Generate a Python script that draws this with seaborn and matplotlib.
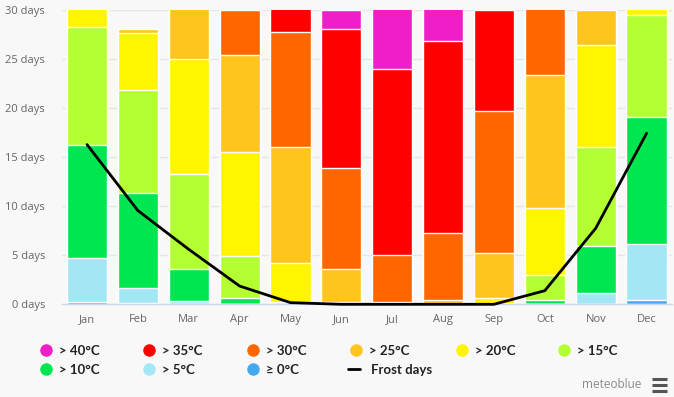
import numpy as np
import pandas as pd
import matplotlib
matplotlib.use("Agg")
import matplotlib.pyplot as plt
from matplotlib.lines import Line2D
import seaborn as sns

# ---------------- data ----------------
months = ["Jan", "Feb", "Mar", "Apr", "May", "Jun", "Jul", "Aug", "Sep", "Oct", "Nov", "Dec"]
ge0 = [0.27, 0.10, 0.00, 0.00, 0.00, 0.00, 0.00, 0.00, 0.00, 0.00, 0.00, 0.44]
gt5 = [4.45, 1.56, 0.34, 0.00, 0.00, 0.00, 0.00, 0.00, 0.00, 0.00, 1.16, 5.68]
gt10 = [11.56, 9.72, 3.30, 0.68, 0.00, 0.00, 0.00, 0.00, 0.00, 0.44, 4.82, 13.01]
gt15 = [11.96, 10.47, 9.65, 4.28, 0.27, 0.00, 0.00, 0.00, 0.00, 2.52, 10.09, 10.36]
gt20 = [2.76, 5.84, 11.68, 10.53, 3.91, 0.27, 0.00, 0.00, 0.61, 6.83, 10.37, 1.51]
gt25 = [0.00, 0.41, 6.03, 9.89, 11.89, 3.37, 0.27, 0.44, 4.59, 13.59, 3.56, 0.00]
gt30 = [0.00, 0.00, 0.00, 4.62, 11.66, 10.22, 4.76, 6.80, 14.51, 7.62, 0.00, 0.00]
gt35 = [0.00, 0.00, 0.00, 0.00, 3.27, 14.20, 18.93, 19.57, 10.29, 0.00, 0.00, 0.00]
gt40 = [0.00, 0.00, 0.00, 0.00, 0.00, 1.94, 7.04, 4.19, 0.00, 0.00, 0.00, 0.00]
frost_days = [16.28, 9.55, 5.60, 1.86, 0.17, 0.00, 0.00, 0.00, 0.00, 1.39, 7.75, 17.43]

series_labels = ["≥ 0°C", "> 5°C", "> 10°C", "> 15°C", "> 20°C", "> 25°C", "> 30°C", "> 35°C", "> 40°C"]
series_values = [ge0, gt5, gt10, gt15, gt20, gt25, gt30, gt35, gt40]
series_colors = ["#46a9ee", "#a3e7f5", "#00e650", "#b4ff32", "#fff500",
                 "#ffc51c", "#ff6600", "#ff0000", "#f01ec8"]
y_ticks = [0, 5, 10, 15, 20, 25, 30]
y_ticklabels = [f"{v} days" for v in y_ticks]

# ---------------- style ----------------
BG = "#f8f8f8"
sns.set_theme(style="white")
plt.rcParams["font.family"] = ["Open Sans", "DejaVu Sans"]

W, H = 674, 397
fig = plt.figure(figsize=(W / 100, H / 100), dpi=100, facecolor=BG)
ax = fig.add_axes([61.6 / W, 92.7 / H, 610.4 / W, 294.3 / H])
ax.set_facecolor(BG)

# stacked bars: draw cumulative totals from top segment downwards
cum = np.cumsum(np.array(series_values, dtype=float), axis=0)
for i in range(len(series_values) - 1, -1, -1):
    df = pd.DataFrame({"month": months, "value": cum[i]})
    sns.barplot(data=df, x="month", y="value", color=series_colors[i],
                saturation=1, width=0.79, edgecolor="white", linewidth=1,
                errorbar=None, ax=ax, zorder=2)

frost_df = pd.DataFrame({"pos": np.arange(len(months)), "frost": frost_days})
sns.lineplot(data=frost_df, x="pos", y="frost", color="black", linewidth=2,
             ax=ax, zorder=4, clip_on=False)

ax.set_xlim(-0.5, 11.5)
ax.set_ylim(0, 30)
ax.set_yticks(y_ticks)
ax.set_yticklabels(y_ticklabels)
ax.set_xticks(range(len(months)))
ax.set_xticklabels(months)
ax.set_xlabel("")
ax.set_ylabel("")
ax.tick_params(axis="y", length=0, pad=12, labelsize=8, labelcolor="#666666")
ax.tick_params(axis="x", length=0, pad=7, labelsize=8, labelcolor="#666666")
ax.yaxis.grid(True, color="#e6e6e6", linewidth=1)
ax.xaxis.grid(False)
ax.set_axisbelow(True)
for s in ["top", "right", "left"]:
    ax.spines[s].set_visible(False)
ax.spines["bottom"].set_color("#ccd6eb")
ax.spines["bottom"].set_linewidth(1)
ax.spines["bottom"].set_zorder(3)

# ---------------- legend (row-major, fixed column spacing) ----------------
legend_order = ["> 40°C", "> 35°C", "> 30°C", "> 25°C", "> 20°C", "> 15°C",
                "> 10°C", "> 5°C", "≥ 0°C", "Frost days"]
col_x = [46, 149, 253, 356, 462, 564]
row_y = [351, 369.5]
lfs = 9.5
lfont = {"family": ["Lato", "DejaVu Sans"], "weight": "bold", "size": lfs}
color_of = dict(zip(series_labels, series_colors))
for k, lab in enumerate(legend_order):
    r, c = divmod(k, 6)
    if lab == "Frost days":
        h = Line2D([0], [0], color="black", lw=2)
        x0 = 348
        hl, tp = 12 / (lfs * 100 / 72), 11 / (lfs * 100 / 72)
    else:
        h = Line2D([0], [0], marker="o", linestyle="none", markersize=9,
                   markerfacecolor=color_of[lab], markeredgewidth=0)
        x0 = col_x[c] - 6
        hl, tp = 12 / (lfs * 100 / 72), 7 / (lfs * 100 / 72)
    leg = fig.legend([h], [lab], loc="center left",
                     bbox_to_anchor=(x0 / W, 1 - row_y[r] / H),
                     frameon=False, borderpad=0, borderaxespad=0,
                     handlelength=hl, handletextpad=tp, prop=lfont)
    for t in leg.get_texts():
        t.set_color("#222222")

# credit + menu icon
fig.text(612 / W, 1 - 385 / H, "meteoblue", ha="center", va="center",
         fontsize=8.5, color="#8a8a8a")
for yy in (379, 385, 391):
    fig.add_artist(Line2D([652 / W, 667 / W], [1 - yy / H, 1 - yy / H],
                          color="#555555", linewidth=2.2,
                          solid_capstyle="butt", transform=fig.transFigure))

fig.savefig("out.png", dpi=100, facecolor=BG)
